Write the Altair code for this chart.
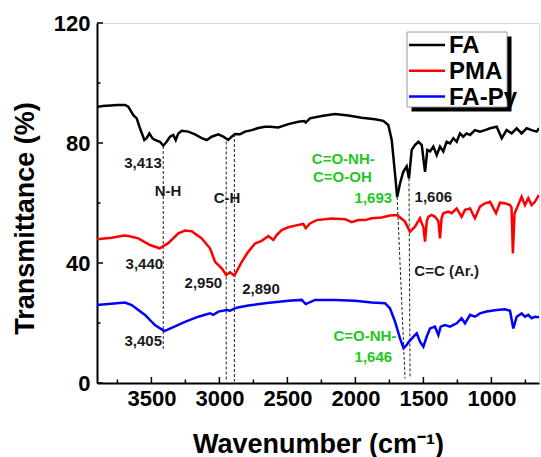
import altair as alt
import pandas as pd

SERIES = ["FA", "PMA", "FA-Py"]
COLORS = ["#000000", "#ff0000", "#0000ff"]

FA_WN = [3900, 3860, 3800, 3750, 3694, 3670, 3633, 3608, 3584, 3552, 3535, 3515, 3493, 3474, 3437,
         3413, 3388, 3363, 3339, 3321, 3302, 3277, 3229, 3179, 3130, 3093, 3057, 3008, 2971, 2935,
         2910, 2885, 2849, 2812, 2762, 2714, 2665, 2628, 2567, 2493, 2420, 2376, 2365, 2334, 2248,
         2150, 2052, 1954, 1856, 1795, 1758, 1733, 1720, 1705, 1693, 1672, 1648, 1623, 1606, 1586,
         1562, 1537, 1512, 1488, 1471, 1451, 1427, 1402, 1378, 1354, 1329, 1304, 1280, 1255, 1231,
         1207, 1182, 1157, 1121, 1084, 1047, 1010, 961, 924, 888, 851, 814, 778, 741, 704, 667, 650]
FA_T = [92.0, 92.3, 92.5, 92.7, 92.7, 92.1, 89.3, 88.2, 84.9, 81.0, 81.6, 83.2, 81.6, 81.0, 80.4,
        79.1, 80.4, 82.1, 82.7, 81.0, 83.2, 84.1, 83.8, 82.9, 81.6, 81.0, 82.1, 82.9, 82.1, 81.0,
        82.1, 83.0, 82.9, 83.8, 84.3, 85.0, 85.4, 85.4, 85.2, 86.3, 87.1, 87.3, 86.8, 88.2, 89.0,
        89.7, 89.2, 88.4, 87.9, 87.4, 86.0, 81.0, 75.0, 68.0, 62.0, 66.5, 70.4, 72.2, 68.2, 77.7,
        79.3, 80.4, 79.3, 70.4, 77.7, 77.2, 78.8, 76.0, 78.8, 77.2, 80.4, 79.9, 81.6, 80.4, 83.2,
        82.1, 83.2, 82.7, 84.3, 83.8, 84.3, 84.9, 85.4, 81.6, 84.3, 83.2, 84.9, 83.2, 84.9, 84.3, 83.8, 84.9]

PMA_WN = [3900, 3792, 3700, 3670, 3596, 3510, 3440, 3376, 3302, 3253, 3204, 3130, 3069, 3032, 2983,
          2950, 2922, 2890, 2836, 2787, 2738, 2689, 2640, 2603, 2579, 2542, 2493, 2420, 2383, 2365,
          2334, 2285, 2174, 2076, 2027, 1979, 1929, 1880, 1807, 1746, 1693, 1635, 1599, 1562, 1525,
          1512, 1500, 1488, 1475, 1464, 1439, 1415, 1390, 1378, 1366, 1354, 1317, 1292, 1255, 1219,
          1194, 1157, 1121, 1084, 1047, 1010, 966, 937, 900, 863, 852, 842, 830, 814, 778, 753, 729,
          704, 680, 650]
PMA_T = [47.9, 48.4, 49.2, 49.0, 48.2, 46.0, 44.9, 46.6, 49.9, 50.8, 50.6, 48.2, 44.9, 40.4, 38.2,
         36.0, 36.9, 35.8, 40.4, 43.8, 46.5, 47.4, 49.0, 47.7, 49.3, 51.0, 51.9, 52.7, 53.0, 51.6,
         53.2, 54.3, 54.8, 54.6, 53.6, 54.3, 54.3, 54.9, 55.2, 55.8, 56.0, 53.8, 50.4, 52.1, 54.9,
         53.2, 52.0, 47.1, 54.0, 55.4, 56.0, 55.4, 54.0, 48.2, 55.0, 56.6, 57.1, 56.6, 58.2, 55.4,
         57.7, 58.2, 54.9, 58.8, 59.9, 60.4, 56.6, 60.1, 59.9, 59.3, 58.5, 43.2, 56.5, 58.2, 62.1, 59.3, 61.6,
         59.3, 60.4, 62.7]

FAPY_WN = [3900, 3817, 3694, 3645, 3547, 3474, 3405, 3351, 3253, 3155, 3069, 3045, 3008, 2946, 2922,
           2873, 2787, 2665, 2615, 2493, 2395, 2365, 2296, 2150, 2003, 1880, 1782, 1746, 1709, 1672,
           1646, 1623, 1606, 1574, 1549, 1525, 1500, 1476, 1451, 1415, 1390, 1373, 1341, 1304, 1255,
           1219, 1194, 1157, 1121, 1084, 1035, 961, 900, 863, 839, 814, 778, 753, 729, 704, 680, 650]
FAPY_T = [26.0, 26.3, 26.8, 26.0, 22.7, 19.3, 17.3, 18.4, 20.4, 22.1, 23.2, 22.7, 23.8, 24.3, 24.1,
          25.1, 25.8, 26.6, 26.8, 27.4, 27.7, 26.3, 27.7, 27.7, 27.4, 26.8, 26.6, 24.9, 20.5, 14.9,
          11.6, 12.7, 13.8, 15.4, 16.6, 13.8, 12.1, 15.4, 18.2, 18.8, 16.0, 18.8, 19.3, 18.8, 19.9,
          21.6, 19.9, 22.7, 22.1, 23.2, 23.8, 24.3, 24.6, 24.1, 18.2, 22.1, 23.2, 22.1, 22.7, 21.6, 22.1, 21.9]

X_MAJOR = [3500, 3000, 2500, 2000, 1500, 1000]
X_MINOR = [3750, 3250, 2750, 2250, 1750, 1250, 750]
Y_MAJOR = [0, 40, 80, 120]
Y_MINOR = [20, 60, 100]

GUIDE_X1 = [3413, 2950, 2890, 1693, 1606]
GUIDE_Y1 = [79.0, 80.5, 83.0, 62.0, 68.2]
GUIDE_X2 = [3413, 2950, 2890, 1635, 1598]
GUIDE_Y2 = [11.0, 0.5, 0.5, 1.5, 1.5]

BLACK_LABELS = ["3,413", "N-H", "C-H", "3,440", "2,950", "2,890", "3,405", "1,606", "C=C (Ar.)"]
BLACK_X = [3562, 3378, 2944, 3552, 3118, 2694, 3560, 1427, 1329]
BLACK_Y = [73.3, 64.0, 61.7, 39.6, 33.4, 31.3, 14.0, 62.1, 37.4]

GREEN_LABELS = ["C=O-NH-", "C=O-OH", "1,693", "C=O-NH-", "1,646"]
GREEN_X = [2089, 2096, 1868, 1930, 1868]
GREEN_Y = [74.6, 68.6, 61.6, 15.8, 8.8]

FONT = "Liberation Sans"
GREEN = "#22c822"
W, H = 442, 360
X_DOM = [650, 3900]
Y_DOM = [0, 120]

rows = []
for name, wn, t in [("FA", FA_WN, FA_T), ("PMA", PMA_WN, PMA_T), ("FA-Py", FAPY_WN, FAPY_T)]:
    for i, (a, b) in enumerate(zip(wn, t)):
        rows.append({"series": name, "wn": a, "T": b, "i": i})
spec_df = pd.DataFrame(rows)

xs = alt.Scale(domain=X_DOM, reverse=True, nice=False, zero=False)
ys = alt.Scale(domain=Y_DOM, nice=False, zero=False)

x_axis = alt.Axis(values=X_MAJOR, format="d", title="Wavenumber (cm\u207b\u00b9)",
                  labelFontSize=22, labelFont=FONT, labelFontWeight="bold", labelColor="black",
                  labelPadding=5, ticks=False, tickSize=0, grid=False,
                  domainColor="black", domainWidth=2,
                  titleFont=FONT, titleFontSize=27, titleFontWeight="bold", titleColor="black",
                  titleY=69, titleBaseline="alphabetic")
y_axis = alt.Axis(values=Y_MAJOR, format="d", title="Transmittance (%)",
                  labelFontSize=22, labelFont=FONT, labelFontWeight="bold", labelColor="black",
                  labelPadding=7, ticks=False, tickSize=0, grid=False,
                  domainColor="black", domainWidth=2,
                  titleFont=FONT, titleFontSize=27, titleFontWeight="bold", titleColor="black",
                  titleX=-64, titleY=195, titleBaseline="alphabetic", titleAngle=270, titleAlign="center")

lines = alt.Chart(spec_df).mark_line(strokeWidth=2.5, clip=True).encode(
    x=alt.X("wn:Q", scale=xs, axis=x_axis),
    y=alt.Y("T:Q", scale=ys, axis=y_axis),
    color=alt.Color("series:N", scale=alt.Scale(domain=SERIES, range=COLORS), legend=None),
    order=alt.Order("i:Q"),
)

guides_df = pd.DataFrame({"x1": GUIDE_X1, "y1": GUIDE_Y1, "x2": GUIDE_X2, "y2": GUIDE_Y2})
guides = alt.Chart(guides_df).mark_rule(strokeDash=[3, 2], strokeWidth=1, color="#222222").encode(
    x=alt.X("x1:Q", scale=xs), y=alt.Y("y1:Q", scale=ys), x2="x2:Q", y2="y2:Q")

# inside ticks
tick_len_x_major = 6 * (Y_DOM[1] - Y_DOM[0]) / H
tick_len_x_minor = 3.5 * (Y_DOM[1] - Y_DOM[0]) / H
tick_len_y_major = 6 * (X_DOM[1] - X_DOM[0]) / W
tick_len_y_minor = 3.5 * (X_DOM[1] - X_DOM[0]) / W

xt_rows = [{"v": v, "a": Y_DOM[0], "b": Y_DOM[0] + tick_len_x_major} for v in X_MAJOR] + \
          [{"v": v, "a": Y_DOM[0], "b": Y_DOM[0] + tick_len_x_minor} for v in X_MINOR]
yt_rows = [{"v": v, "a": X_DOM[1], "b": X_DOM[1] - tick_len_y_major} for v in Y_MAJOR] + \
          [{"v": v, "a": X_DOM[1], "b": X_DOM[1] - tick_len_y_minor} for v in Y_MINOR]
xticks = alt.Chart(pd.DataFrame(xt_rows)).mark_rule(color="black", strokeWidth=1.5).encode(
    x=alt.X("v:Q", scale=xs), y=alt.Y("a:Q", scale=ys), y2="b:Q")
yticks = alt.Chart(pd.DataFrame(yt_rows)).mark_rule(color="black", strokeWidth=1.5).encode(
    y=alt.Y("v:Q", scale=ys), x=alt.X("a:Q", scale=xs), x2="b:Q")

black_df = pd.DataFrame({"t": BLACK_LABELS, "x": BLACK_X, "y": BLACK_Y})
green_df = pd.DataFrame({"t": GREEN_LABELS, "x": GREEN_X, "y": GREEN_Y})
black_txt = alt.Chart(black_df).mark_text(font=FONT, fontSize=15, fontWeight="bold", color="#1a1a1a",
                                          align="center", baseline="middle").encode(
    x=alt.X("x:Q", scale=xs), y=alt.Y("y:Q", scale=ys), text="t:N")
green_txt = alt.Chart(green_df).mark_text(font=FONT, fontSize=15, fontWeight="bold", color=GREEN,
                                          align="center", baseline="middle").encode(
    x=alt.X("x:Q", scale=xs), y=alt.Y("y:Q", scale=ys), text="t:N")

# legend (drawn manually)
one = pd.DataFrame({"k": [0]})
LX, LY, LW, LH = 310, 9, 100, 75
ROW0, ROWH = 13, 25.8
layers_leg = [
    alt.Chart(one).mark_rect(color="black").encode(
        x=alt.value(LX + 4.5), x2=alt.value(LX + LW + 4.5), y=alt.value(LY + 4.5), y2=alt.value(LY + LH + 4.5)),
    alt.Chart(one).mark_rect(fill="white", stroke="#9a9a9a", strokeWidth=1).encode(
        x=alt.value(LX), x2=alt.value(LX + LW), y=alt.value(LY), y2=alt.value(LY + LH)),
]
for k, (name, col) in enumerate(zip(SERIES, COLORS)):
    yy = LY + ROW0 + k * ROWH
    layers_leg.append(alt.Chart(one).mark_rule(color=col, strokeWidth=2.5).encode(
        x=alt.value(LX + 2), x2=alt.value(LX + 38), y=alt.value(yy)))
    layers_leg.append(alt.Chart(one).mark_text(font=FONT, fontSize=24, fontWeight="bold", color="black",
                                               align="left", baseline="middle", dy=1).encode(
        x=alt.value(LX + 42), y=alt.value(yy), text=alt.value(name)))

chart = alt.layer(guides, lines, xticks, yticks, black_txt, green_txt, *layers_leg).properties(
    width=W, height=H,
    autosize=alt.AutoSizeParams(type="none"),
    padding={"left": 97, "top": 23, "right": 2, "bottom": 74},
).configure_view(stroke="black", strokeWidth=2).configure(background="white")

chart.save("out.html", embed_options={"renderer": "svg", "actions": False})
